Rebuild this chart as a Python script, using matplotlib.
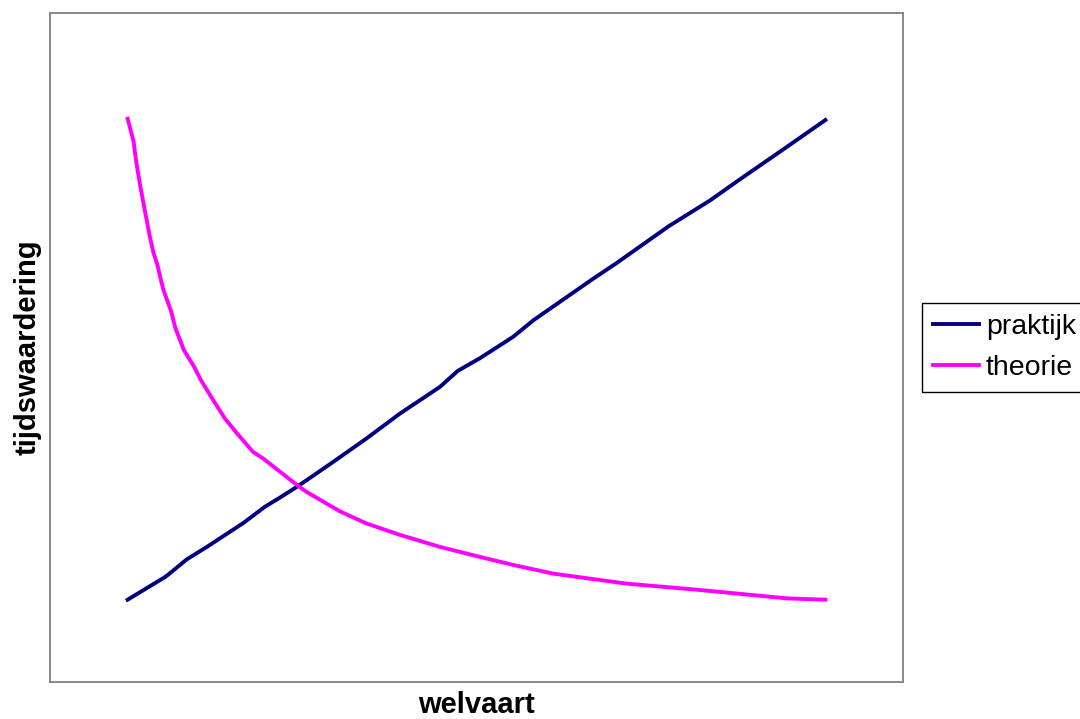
import matplotlib
matplotlib.use("Agg")
import matplotlib.pyplot as plt

plt.rcParams['font.family'] = ['Liberation Sans', 'DejaVu Sans']

# welvaart (x) and tijdswaardering (y), arbitrary units
praktijk_x = [9.1, 13.5, 14.1, 16.0, 18.4, 22.7, 25.2, 27.0, 29.1, 33.2, 37.1, 41.0,
              45.7, 47.8, 50.4, 54.3, 56.7, 63.7, 66.4, 72.5, 77.4, 80.5, 86.4, 90.9]
praktijk_y = [12.3, 15.7, 16.3, 18.3, 20.2, 23.8, 26.2, 27.6, 29.3, 32.9, 36.4, 40.1,
              44.1, 46.5, 48.4, 51.6, 54.1, 60.3, 62.6, 68.1, 72.0, 74.8, 80.0, 84.0]

theorie_x = [9.1, 9.8, 10.1, 10.6, 11.1, 11.7, 12.1, 12.6, 13.0, 13.3, 14.2, 14.7,
             15.7, 16.9, 17.7, 19.1, 19.6, 20.5, 21.9, 23.8, 25.0, 27.2, 29.1, 30.1,
             34.0, 37.1, 41.0, 45.7, 50.4, 54.3, 59.0, 67.6, 75.8, 86.4, 90.9]
theorie_y = [84.2, 80.8, 77.8, 74.0, 70.6, 66.6, 64.3, 62.3, 60.1, 58.6, 55.4, 52.9,
             49.6, 47.1, 45.1, 42.2, 41.2, 39.4, 37.2, 34.4, 33.4, 31.2, 29.3, 28.4,
             25.5, 23.7, 22.0, 20.2, 18.7, 17.5, 16.2, 14.7, 13.8, 12.5, 12.3]

fig = plt.figure(figsize=(10.8, 7.19), dpi=100)
ax = fig.add_axes([50 / 1080, 1 - 682 / 719, 853 / 1080, 669 / 719])

ax.plot(praktijk_x, praktijk_y, color='#000080', lw=2.8, label='praktijk')
ax.plot(theorie_x, theorie_y, color='#FF00FF', lw=2.8, label='theorie')

ax.set_xlim(0, 100)
ax.set_ylim(0, 100)
ax.set_xticks([])
ax.set_yticks([])
for s in ax.spines.values():
    s.set_color('#808080')
    s.set_linewidth(1.3)

ax.set_xlabel('welvaart', fontsize=21, fontweight='bold', labelpad=6.5)
ax.set_ylabel('tijdswaardering', fontsize=21, fontweight='bold', labelpad=6)

leg = fig.legend(loc='upper left', bbox_to_anchor=(922 / 1080, 1 - 303 / 719),
                 fontsize=20.5, frameon=True, fancybox=False, framealpha=1,
                 edgecolor='black', handlelength=1.6, handletextpad=0.25,
                 borderpad=0.4, labelspacing=0.5, borderaxespad=0)
leg.get_frame().set_linewidth(1.0)

fig.savefig('out.png', dpi=100)
